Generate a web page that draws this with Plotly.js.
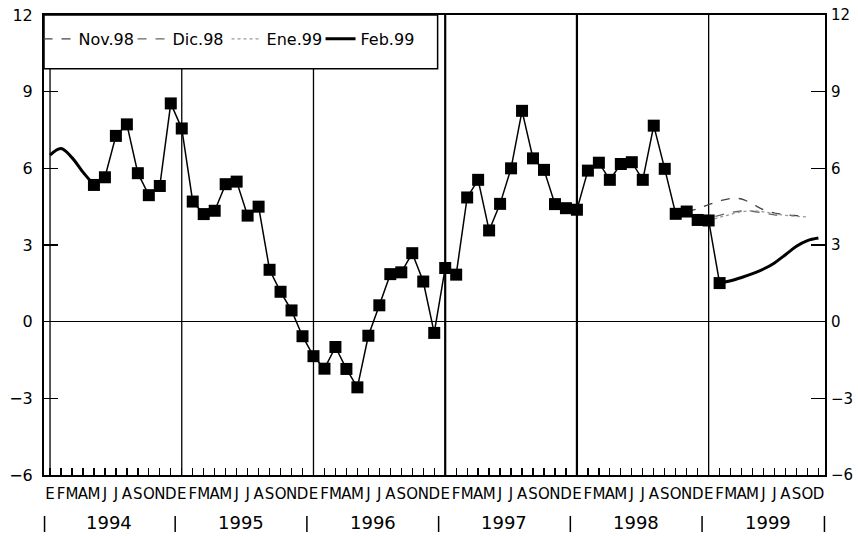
<!DOCTYPE html>
<html><head><meta charset="utf-8">
<script src="https://cdn.plot.ly/plotly-3.0.1.min.js"></script>
<style>html,body{margin:0;padding:0;background:#fff}</style>
</head><body><div id="chart" style="width:858px;height:536px"></div>
<script>
// Month letters (Spanish), years shown on the axis
const monthLetters = ['E','F','M','A','M','J','J','A','S','O','N','D'];
const years = [1994, 1995, 1996, 1997, 1998, 1999];
const nMonths = 71; // Jan 1994 .. Nov 1999 (month index 0 = Jan 1994)

// Observed series: Apr 1994 (index 4) .. Feb 1999 (index 61)
const observedStart = 4;
const observed = [
  5.35, 5.65, 7.27, 7.72, 5.81, 4.95, 5.31, 8.54,                          // 1994 Apr..Nov
  7.56, 4.70, 4.21, 4.34, 5.38, 5.48, 4.15, 4.50, 2.03, 1.17, 0.44, -0.57,  // 1995 (from Jan)
  -1.35, -1.84, -0.99, -1.85, -2.57, -0.55, 0.64, 1.86, 1.93, 2.68, 1.57, -0.44, // 1996
  2.10, 1.84, 4.86, 5.55, 3.57, 4.61, 6.00, 8.25, 6.39, 5.94, 4.60, 4.44,  // 1997
  4.38, 5.91, 6.22, 5.55, 6.17, 6.24, 5.55, 7.67, 5.98, 4.22, 4.31, 3.98,  // 1998
  3.96, 1.51                                                               // 1999 Jan-Feb
];

// Forecast / trend lines
const nov98Start = 58;
const nov98 = [4.31, 4.42, 4.58, 4.72, 4.82, 4.80, 4.60, 4.38, 4.25, 4.18, 4.15, 4.13];
const dic98Start = 59;
const dic98 = [3.98, 4.06, 4.16, 4.27, 4.33, 4.32, 4.25, 4.18, 4.10];
const ene99Start = 60;
const ene99 = [3.96, 4.08, 4.20, 4.30, 4.34, 4.30, 4.22, 4.16, 4.12, 4.10];
const feb99EarlyStart = 0;
const feb99Early = [6.52, 6.78, 6.42, 5.85, 5.35];
const feb99LateStart = 61;
const feb99Late = [1.51, 1.60, 1.73, 1.88, 2.06, 2.30, 2.62, 2.95, 3.17, 3.27];

function idx(start, arr){ return arr.map((_, i) => start + i); }

// Feb.99 series with a gap in between
const feb99X = idx(feb99EarlyStart, feb99Early).concat([null]).concat(idx(feb99LateStart, feb99Late));
const feb99Y = feb99Early.concat([null]).concat(feb99Late);

const tickVals = [];
const tickText = [];
for (let i = 0; i < nMonths; i++) {
  tickVals.push(i);
  let t = monthLetters[i % 12];
  if (i === nMonths - 1) t = 'D';
  tickText.push(t);
}

const FONT = 'DejaVu Sans, Arial, sans-serif';
const XRANGE = [-0.55, 70.6];

const traces = [
  {name: 'Nov.98', x: idx(nov98Start, nov98), y: nov98, mode: 'lines', type: 'scatter',
   line: {color: '#444', width: 1.3, dash: 'dash', shape: 'spline'}},
  {name: 'Dic.98', x: idx(dic98Start, dic98), y: dic98, mode: 'lines', type: 'scatter',
   line: {color: '#666', width: 1.3, dash: 'dash', shape: 'spline'}},
  {name: 'Ene.99', x: idx(ene99Start, ene99), y: ene99, mode: 'lines', type: 'scatter',
   line: {color: '#999', width: 1.3, dash: 'dot', shape: 'spline'}},
  {name: 'Feb.99', x: feb99X, y: feb99Y, mode: 'lines', type: 'scatter', connectgaps: false,
   line: {color: '#000', width: 3, shape: 'spline'}},
  {name: 'Observado', x: idx(observedStart, observed), y: observed, mode: 'lines+markers', type: 'scatter',
   yaxis: 'y2', showlegend: false,
   line: {color: '#000', width: 1.5},
   marker: {symbol: 'square', size: 12, color: '#000'}}
];

const shapes = [];
years.forEach((yr, k) => {
  const x = 12 * k;
  shapes.push({type: 'line', xref: 'x', yref: 'paper', x0: x, x1: x, y0: 0, y1: 1,
    line: {color: '#000', width: (yr === 1997 || yr === 1998) ? 2.2 : 1.3}, layer: 'below'});
});
// legend box
shapes.push({type: 'rect', xref: 'paper', yref: 'paper', x0: 0, x1: 0.504, y0: 0.883, y1: 1,
  line: {color: '#000', width: 1.5}, fillcolor: '#fff', layer: 'above'});

// year separators below the month letters
function sep(xv) {
  const px = (xv - XRANGE[0]) / (XRANGE[1] - XRANGE[0]);
  return {type: 'line', xref: 'paper', yref: 'paper', x0: px, x1: px, y0: -0.089, y1: -0.124,
    line: {color: '#000', width: 1.5}};
}
const annotations = [];
years.forEach((yr, k) => {
  annotations.push({xref: 'x', yref: 'paper', x: 12 * k + 5.4, y: -0.104, text: String(yr),
    showarrow: false, font: {family: FONT, size: 18, color: '#000'}, xanchor: 'center', yanchor: 'middle'});
  shapes.push(sep(k === 0 ? -0.5 : 12 * k - 0.6));
});
shapes.push(sep(XRANGE[1] - 0.05));

const yCommon = {
  range: [-6, 12], dtick: 3, tick0: 0, ticks: 'inside', ticklen: 14, tickwidth: 1.3, tickcolor: '#000',
  showline: true, linewidth: 2, linecolor: '#000', showgrid: false,
  tickfont: {family: FONT, size: 16, color: '#000'}
};

const layout = {
  width: 858, height: 536,
  margin: {l: 44, r: 33, t: 15, b: 61},
  paper_bgcolor: '#fff', plot_bgcolor: '#fff',
  font: {family: FONT, color: '#000'},
  showlegend: true,
  legend: {orientation: 'h', x: -0.007, y: 0.985, xanchor: 'left', yanchor: 'top',
    bgcolor: 'rgba(0,0,0,0)', borderwidth: 0, font: {family: FONT, size: 16, color: '#000'},
    entrywidth: 49, itemwidth: 30},
  xaxis: {range: XRANGE, tickmode: 'array', tickvals: tickVals, ticktext: tickText,
    ticks: 'inside', ticklen: 7, tickwidth: 1.3, tickcolor: '#000', tickangle: 0,
    showline: true, mirror: true, linewidth: 2, linecolor: '#000', showgrid: false, zeroline: false,
    tickfont: {family: FONT, size: 15, color: '#000'}, ticklabelstandoff: 4},
  yaxis: Object.assign({}, yCommon, {side: 'left', zeroline: true, zerolinecolor: '#000', zerolinewidth: 1.5,
    ticklabelstandoff: 6}),
  yaxis2: Object.assign({}, yCommon, {side: 'right', overlaying: 'y', zeroline: false,
    ticklabelstandoff: 1, tickfont: {family: FONT, size: 15, color: '#000'}}),
  shapes: shapes,
  annotations: annotations
};

Plotly.newPlot('chart', traces, layout, {displayModeBar: false, staticPlot: true});
</script>
</body></html>
